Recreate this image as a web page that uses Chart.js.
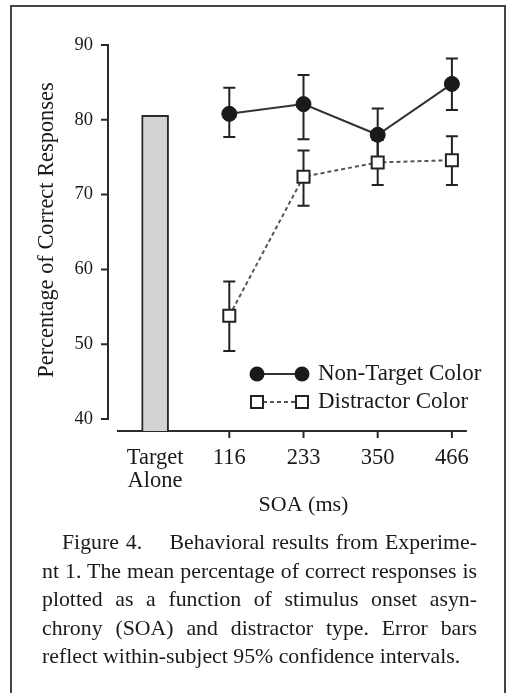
<!DOCTYPE html>
<html>
<head>
<meta charset="utf-8">
<script src="https://cdn.jsdelivr.net/npm/chart.js@4/dist/chart.umd.min.js"></script>
<style>
  html, body { margin: 0; padding: 0; background: #fff; }
  body { width: 509px; height: 693px; position: relative; overflow: hidden; font-family: "Liberation Serif", "DejaVu Serif", serif; color: #1a1a1a; }
  #frame { position: absolute; left: 10px; top: 5px; width: 496px; height: 720px; border: 2px solid #444; box-sizing: border-box; }
  #chart { position: absolute; left: 0; top: 0; }
  #caption { position: absolute; left: 42px; top: 528px; width: 435px; font-size: 21.8px; line-height: 28.5px; color: #1a1a1a; }
  #caption div { text-align: justify; text-align-last: justify; white-space: nowrap; }
  #caption div.first { padding-left: 20px; }
  #caption div.last { text-align: left; text-align-last: left; }
</style>
</head>
<body>
<div id="frame"></div>
<canvas id="chart" width="509" height="530"></canvas>
<div id="caption">
  <div class="first">Figure 4.&nbsp;&nbsp;&nbsp; Behavioral results from Experime-</div>
  <div>nt 1. The mean percentage of correct responses is</div>
  <div>plotted as a function of stimulus onset asyn-</div>
  <div>chrony (SOA) and distractor type. Error bars</div>
  <div class="last">reflect within-subject 95% confidence intervals.</div>
</div>
<script>
// categories and values
const categories = [['Target', 'Alone'], '116', '233', '350', '466'];
const yTicks = [40, 50, 60, 70, 80, 90];

const targetAlone = [80.6, null, null, null, null];

const nonTarget = [null, 80.8, 82.1, 78.0, 84.8];
const nonTargetLow = [null, 77.7, 77.4, 74.4, 81.3];
const nonTargetHigh = [null, 84.3, 86.0, 81.5, 88.2];

const distractor = [null, 53.8, 72.4, 74.3, 74.6];
const distractorLow = [null, 49.1, 68.5, 71.3, 71.3];
const distractorHigh = [null, 58.4, 75.9, 77.3, 77.8];

const legendLabels = ['Non-Target Color', 'Distractor Color'];

const ink = '#1a1a1a';
const serif = '"Liberation Serif", "DejaVu Serif", serif';

// axes, error bars, legend and y title drawn on the canvas
const figurePlugin = {
    id: 'figure',
    beforeDatasetsDraw(chart) {
        const ctx = chart.ctx;
        const xs = chart.scales.x;
        const ys = chart.scales.y;
        const area = chart.chartArea;
        ctx.save();
        ctx.strokeStyle = '#2a2a2a';
        ctx.lineWidth = 2;

        // y axis, stops at 40 and 90
        const axisX = area.left - 10;
        ctx.beginPath();
        ctx.moveTo(axisX, ys.getPixelForValue(90));
        ctx.lineTo(axisX, ys.getPixelForValue(40));
        yTicks.forEach(function(v) {
            const py = ys.getPixelForValue(v);
            ctx.moveTo(axisX - 7, py);
            ctx.lineTo(axisX + 1, py);
        });
        ctx.stroke();

        // x axis, ticks only at the SOA values
        const axisY = area.bottom;
        ctx.beginPath();
        ctx.moveTo(area.left - 1, axisY);
        ctx.lineTo(xs.getPixelForValue(4) + 15, axisY);
        for (let i = 1; i < categories.length; i++) {
            const px = xs.getPixelForValue(i);
            ctx.moveTo(px, axisY);
            ctx.lineTo(px, axisY + 7);
        }
        ctx.stroke();

        // error bars
        function errorBars(low, high) {
            ctx.beginPath();
            for (let i = 0; i < low.length; i++) {
                if (low[i] == null) continue;
                const px = xs.getPixelForValue(i);
                const y1 = ys.getPixelForValue(low[i]);
                const y2 = ys.getPixelForValue(high[i]);
                ctx.moveTo(px, y1);
                ctx.lineTo(px, y2);
                ctx.moveTo(px - 6, y1);
                ctx.lineTo(px + 6, y1);
                ctx.moveTo(px - 6, y2);
                ctx.lineTo(px + 6, y2);
            }
            ctx.stroke();
        }
        ctx.strokeStyle = '#222';
        errorBars(nonTargetLow, nonTargetHigh);
        errorBars(distractorLow, distractorHigh);
        ctx.restore();
    },
    afterDraw(chart) {
        const ctx = chart.ctx;
        ctx.save();

        // y axis title
        ctx.translate(53, 230);
        ctx.rotate(-Math.PI / 2);
        ctx.font = '22.4px ' + serif;
        ctx.fillStyle = ink;
        ctx.textAlign = 'center';
        ctx.textBaseline = 'alphabetic';
        ctx.fillText('Percentage of Correct Responses', 0, 0);
        ctx.setTransform(1, 0, 0, 1, 0, 0);

        // legend
        const lx1 = 257, lx2 = 302, tx = 318;
        const rows = [374, 402];
        ctx.lineWidth = 2;
        ctx.strokeStyle = '#333';
        ctx.beginPath();
        ctx.moveTo(lx1, rows[0]);
        ctx.lineTo(lx2, rows[0]);
        ctx.stroke();
        ctx.fillStyle = '#1a1a1a';
        [lx1, lx2].forEach(function(x) {
            ctx.beginPath();
            ctx.arc(x, rows[0], 7.5, 0, Math.PI * 2);
            ctx.fill();
        });
        ctx.strokeStyle = '#555';
        ctx.setLineDash([4, 3]);
        ctx.beginPath();
        ctx.moveTo(lx1 + 6, rows[1]);
        ctx.lineTo(lx2 - 6, rows[1]);
        ctx.stroke();
        ctx.setLineDash([]);
        ctx.strokeStyle = '#222';
        ctx.fillStyle = '#fff';
        [lx1, lx2].forEach(function(x) {
            ctx.fillRect(x - 6, rows[1] - 6, 12, 12);
            ctx.strokeRect(x - 6, rows[1] - 6, 12, 12);
        });
        ctx.font = '23px ' + serif;
        ctx.fillStyle = ink;
        ctx.textAlign = 'left';
        ctx.textBaseline = 'middle';
        ctx.fillText(legendLabels[0], tx, rows[0]);
        ctx.fillText(legendLabels[1], tx, rows[1]);
        ctx.restore();
    }
};

const ctx = document.getElementById('chart').getContext('2d');
const chart = new Chart(ctx, {
    type: 'bar',
    data: {
        labels: categories,
        datasets: [
            {
                type: 'line',
                label: legendLabels[0],
                data: nonTarget,
                borderColor: '#333',
                borderWidth: 2,
                pointRadius: 7.5,
                pointBorderWidth: 1,
                pointBackgroundColor: '#1a1a1a',
                pointBorderColor: '#1a1a1a',
                spanGaps: false,
                tension: 0
            },
            {
                type: 'line',
                label: legendLabels[1],
                data: distractor,
                borderColor: '#555',
                borderWidth: 2,
                borderDash: [4, 3],
                pointStyle: 'rect',
                pointRadius: 8.5,
                pointBorderWidth: 2,
                pointBackgroundColor: '#fff',
                pointBorderColor: '#222',
                spanGaps: false,
                tension: 0
            },
            {
                label: 'Target Alone',
                data: targetAlone,
                backgroundColor: '#d3d3d3',
                borderColor: '#2a2a2a',
                borderWidth: 2,
                barThickness: 27,
                skipNull: true
            }
        ]
    },
    options: {
        responsive: false,
        animation: false,
        events: [],
        layout: { padding: { top: 45, right: 20, left: 0, bottom: 0 } },
        plugins: {
            legend: { display: false },
            tooltip: { enabled: false }
        },
        scales: {
            x: {
                grid: { display: false, drawTicks: false },
                border: { display: false },
                ticks: {
                    color: ink,
                    padding: 15,
                    font: { family: serif, size: 22.5, lineHeight: '23.5px' }
                },
                title: {
                    display: true,
                    text: 'SOA (ms)',
                    color: ink,
                    font: { family: serif, size: 22 },
                    padding: { top: 0, bottom: 12 }
                },
                afterFit: function(scale) { scale.height = 530 - 431; }
            },
            y: {
                min: 38.4,
                max: 90,
                grid: { display: false, drawTicks: false },
                border: { display: false },
                afterBuildTicks: function(scale) {
                    scale.ticks = yTicks.map(function(v) { return { value: v }; });
                },
                ticks: {
                    color: ink,
                    padding: 25,
                    font: { family: serif, size: 18.5 }
                },
                afterFit: function(scale) { scale.width = 118; }
            }
        }
    },
    plugins: [figurePlugin]
});
</script>
</body>
</html>
